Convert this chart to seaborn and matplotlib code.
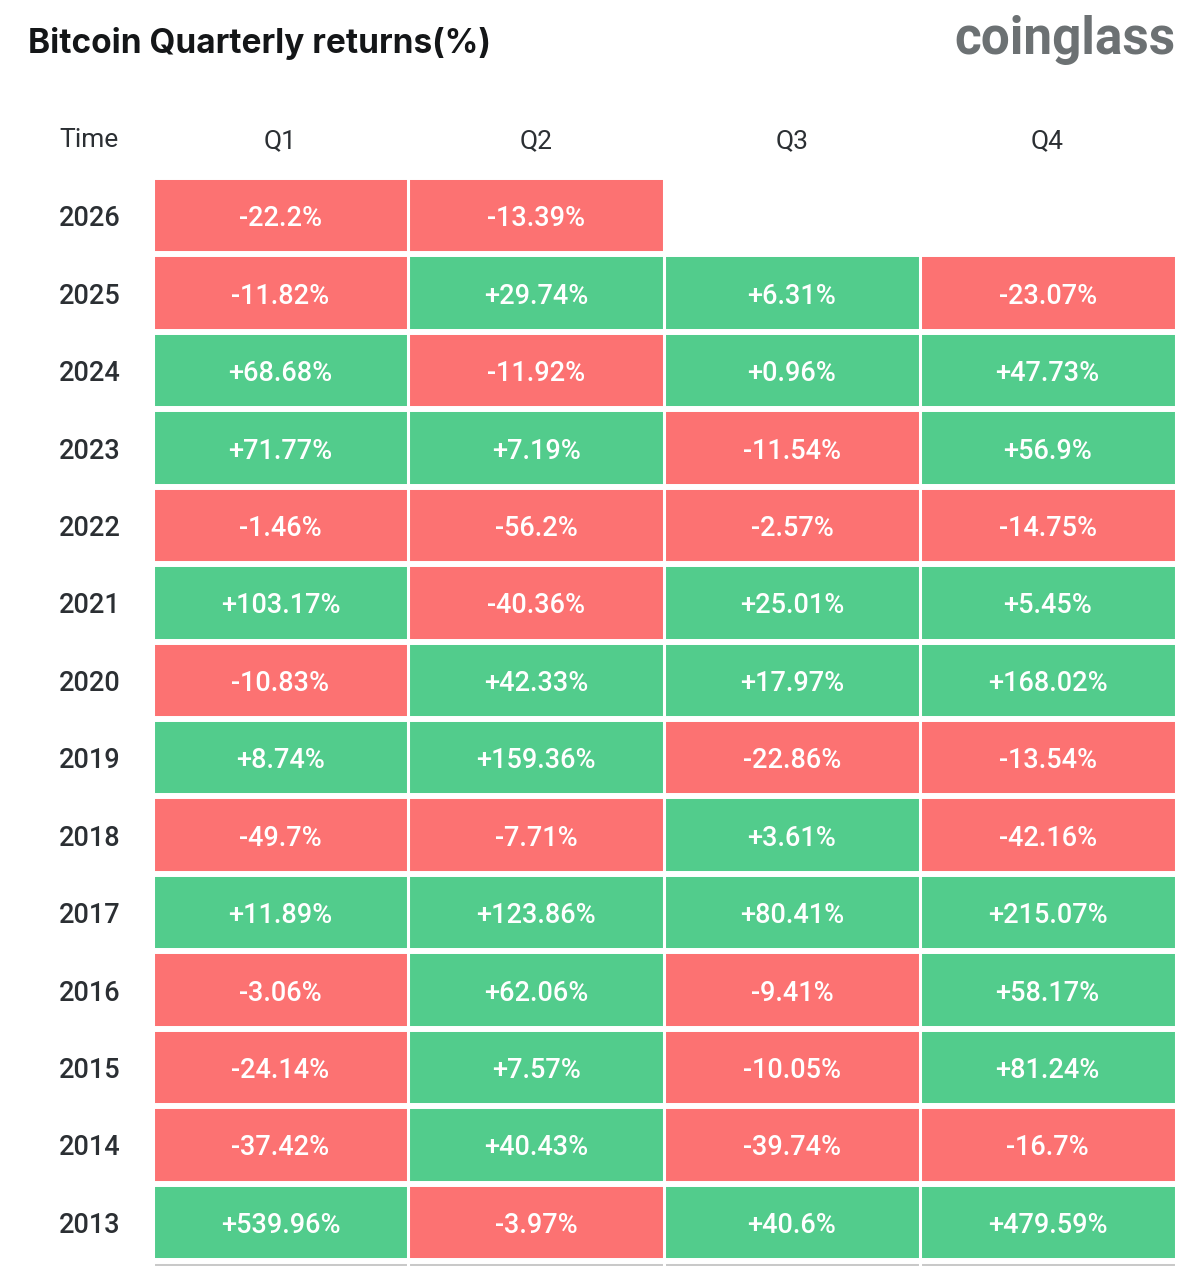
import numpy as np
import pandas as pd
import matplotlib
matplotlib.use("Agg")
import matplotlib.pyplot as plt
import seaborn as sns
from matplotlib.colors import ListedColormap

# quarterly returns in %, NaN = quarter not yet available
years = [2026, 2025, 2024, 2023, 2022, 2021, 2020, 2019, 2018, 2017, 2016, 2015, 2014, 2013]
quarters = ["Q1", "Q2", "Q3", "Q4"]
q1 = [-22.2, -11.82, 68.68, 71.77, -1.46, 103.17, -10.83, 8.74, -49.7, 11.89, -3.06, -24.14, -37.42, 539.96]
q2 = [-13.39, 29.74, -11.92, 7.19, -56.2, -40.36, 42.33, 159.36, -7.71, 123.86, 62.06, 7.57, 40.43, -3.97]
q3 = [np.nan, 6.31, 0.96, -11.54, -2.57, 25.01, 17.97, -22.86, 3.61, 80.41, -9.41, -10.05, -39.74, 40.6]
q4 = [np.nan, -23.07, 47.73, 56.9, -14.75, 5.45, 168.02, -13.54, -42.16, 215.07, 58.17, 81.24, -16.7, 479.59]

df = pd.DataFrame({"Q1": q1, "Q2": q2, "Q3": q3, "Q4": q4}, index=years)[quarters]
signs = np.sign(df)
labels = df.apply(lambda col: col.map(lambda v: "" if pd.isna(v) else f"{v:+g}%"))

sns.set_theme(style="white")
plt.rcParams["font.family"] = ["Roboto", "DejaVu Sans"]

red = "#fc7272"
green = "#52cc8c"
text_dark = "#2b2f33"

W, H = 1200, 1266
fig = plt.figure(figsize=(W / 100, H / 100), dpi=100)
# grid area in pixels: left 152.5, right 1175.5, top 177, rows of 77.43 px
row_h = 77.43
left, right, top = 152.5, 1175.5, 177
ax = fig.add_axes([left / W, 0, (right - left) / W, (H - top) / H])

sns.heatmap(signs, ax=ax, cmap=ListedColormap([red, green]), vmin=-1, vmax=1,
            cbar=False, annot=labels.values, fmt="", linewidths=0,
            annot_kws={"color": "white", "fontsize": 19.5, "fontweight": "medium",
                       "va": "center_baseline"})

n = len(years)
ax.set_ylim(n + (H - top - n * row_h) / row_h, 0)
# hint of the next (cut off) row
ax.axhspan(n + 2 / row_h, n + 0.2, color="#c9c9c9", lw=0, zorder=0.5)

# white gaps between cells
for y in range(n + 1):
    ax.axhline(y, color="white", lw=4.3, zorder=3)
for x in range(len(quarters) + 1):
    ax.axvline(x, color="white", lw=2.2, zorder=3)

ax.xaxis.tick_top()
ax.set_xticklabels(quarters, fontsize=19, color=text_dark)
ax.set_yticklabels([str(y) for y in years], rotation=0, fontsize=19.5,
                   color=text_dark, fontweight="medium")
for lbl in ax.get_yticklabels():
    lbl.set_va("center_baseline")
ax.tick_params(axis="x", length=0, pad=17)
ax.tick_params(axis="y", length=0, pad=23)
ax.set_xlabel("")
ax.set_ylabel("")
for s in ax.spines.values():
    s.set_visible(False)

fig.text(89 / W, 1 - 140 / H, "Time", ha="center", va="center",
         fontsize=19, color=text_dark)
fig.text(28 / W, 1 - 43 / H, "Bitcoin Quarterly returns(%)", ha="left", va="center",
         fontsize=24, fontweight="bold", color="#141618", family=["Inter", "DejaVu Sans"])
fig.text(1176 / W, 1 - 40 / H, "coinglass", ha="right", va="center",
         fontsize=37, fontweight="bold", color="#6c7173")

fig.savefig("out.png", dpi=100)
plt.close(fig)
